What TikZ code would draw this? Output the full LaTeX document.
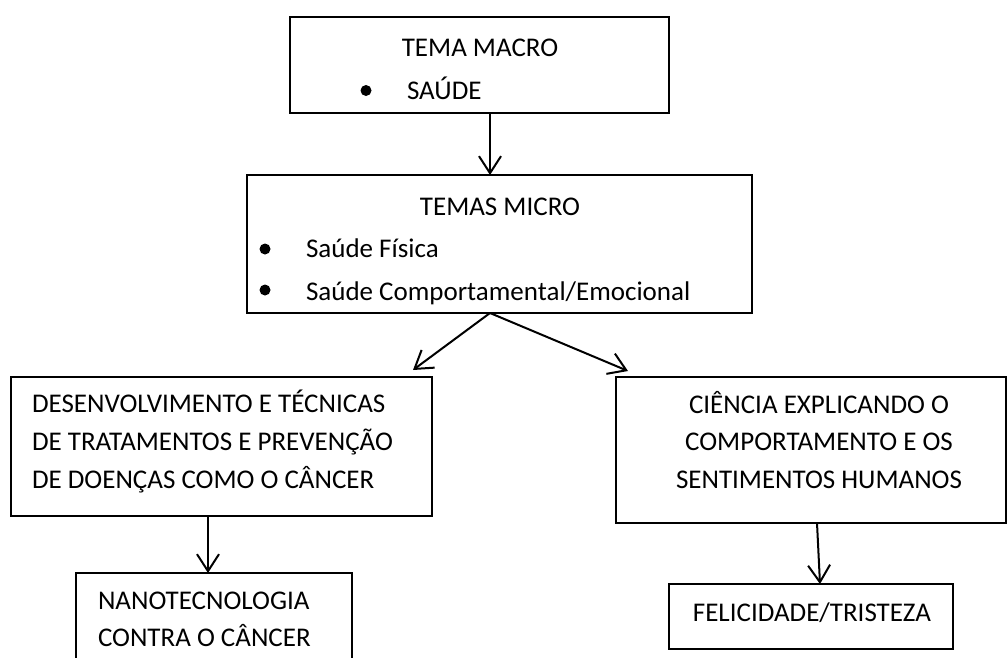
\documentclass[tikz,border=0pt]{standalone}
\usepackage{fontspec}
\setmainfont{Carlito}
\usetikzlibrary{arrows.meta,calc}
\begin{document}
\begin{tikzpicture}[x=1pt,y=-1pt,
  every node/.style={font=\fontsize{27}{38}\selectfont, inner sep=0pt, outer sep=0pt},
  box/.style={draw, line width=2pt, rectangle},
  txt/.style={anchor=base west},
  ctxt/.style={anchor=base},
  bul/.style={circle, fill, minimum size=11pt},
  conn/.style={line width=2pt, -{Straight Barb[length=17pt,width=22pt,line width=2pt]}}
]
\useasboundingbox (0,0) rectangle (1008,657);
\clip (0,0) rectangle (1008,657);
\fill[white] (0,0) rectangle (1008,657);

% boxes
\node[box, minimum width=379pt, minimum height=96pt] (b1) at (479.5,65) {};
\node[box, minimum width=505pt, minimum height=138pt] (b2) at (499.5,244) {};
\node[box, minimum width=421pt, minimum height=139pt] (b3) at (221.5,446.5) {};
\node[box, minimum width=276pt, minimum height=127pt] (b4) at (214,636.5) {};
\node[box, minimum width=390pt, minimum height=146pt] (b5) at (811,450) {};
\node[box, minimum width=284pt, minimum height=65pt] (b6) at (811,616.5) {};

% texts box 1
\node[ctxt] (t1) at (480,56) {TEMA MACRO};
\node[bul] (u1) at (366,90.5) {};
\node[txt] (t1b) at (407,99) {SAÚDE};

% texts box 2
\node[ctxt] (t2) at (500,215) {TEMAS MICRO};
\node[bul] (u2) at (265,249) {};
\node[txt] (t2a) at (306,257) {Saúde Física};
\node[bul] (u3) at (265,290) {};
\node[txt] (t2b) at (306,300) {Saúde Comportamental/Emocional};

% texts box 3
\node[txt] (t3a) at (32,412.5) {DESENVOLVIMENTO E TÉCNICAS};
\node[txt] (t3b) at (32,450.5) {DE TRATAMENTOS E PREVENÇÃO};
\node[txt] (t3c) at (32,488) {DE DOENÇAS COMO O CÂNCER};

% texts box 4
\node[txt] (t4a) at (98,609) {NANOTECNOLOGIA};
\node[txt] (t4b) at (98,646.5) {CONTRA O CÂNCER};

% texts box 5
\node[ctxt] (t5a) at (819,413) {CIÊNCIA EXPLICANDO O};
\node[ctxt] (t5b) at (819,450.5) {COMPORTAMENTO E OS};
\node[ctxt] (t5c) at (819,488) {SENTIMENTOS HUMANOS};

% text box 6
\node[ctxt] (t6) at (812,621.5) {FELICIDADE/TRISTEZA};

% connectors
\draw[conn] ($(b1.south)+(10.5,0)$) -- ($(b2.north)+(-9.5,0)$);
\draw[conn] ($(b2.south)+(-9.5,0)$) -- ($(b3.north east)+(-19,-7)$);
\draw[conn] ($(b2.south)+(-9.5,0)$) -- ($(b5.north west)+(12,-6)$);
\draw[conn] ($(b3.south)+(-13.5,0)$) -- ($(b4.north)+(-6,0)$);
\draw[conn] ($(b5.south)+(6,0)$) -- ($(b6.north)+(9,0)$);
\end{tikzpicture}
\end{document}
